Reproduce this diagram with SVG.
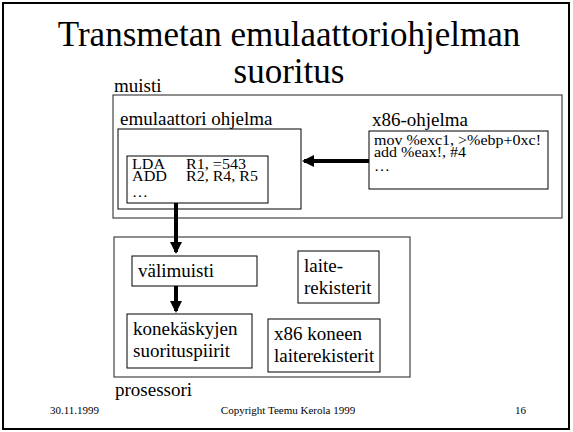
<svg xmlns="http://www.w3.org/2000/svg" width="573" height="432" viewBox="0 0 573 432">
<style>
text{font-family:"Liberation Serif","Times New Roman",serif;fill:#000}
.outer{fill:none;stroke:#444;stroke-width:1.2}
.box{fill:#fff;stroke:#000;stroke-width:1}
.lbl{font-size:19px}
.code{font-size:14px}
.foot{font-size:11px}
.arrow{stroke:#000;stroke-width:4;fill:none}
</style>
<defs>
<marker id="ah" markerWidth="3" markerHeight="3" refX="2.5" refY="1.5" orient="auto" markerUnits="strokeWidth">
<path d="M0,0 L3,1.5 L0,3 z" fill="#000"/>
</marker>
</defs>
<rect x="0" y="0" width="573" height="432" fill="#fff"/>
<rect x="3" y="3" width="566" height="426" fill="none" stroke="#000" stroke-width="2"/>
<g id="title">
<text x="289" y="46" font-size="35" text-anchor="middle">Transmetan emulaattoriohjelman</text>
<text x="289" y="83" font-size="35" text-anchor="middle">suoritus</text>
</g>
<g id="muisti">
<text x="114" y="92" class="lbl">muisti</text>
<rect x="113" y="95" width="449" height="123" class="outer"/>
</g>
<g id="emulaattori">
<text x="120" y="125" class="lbl">emulaattori ohjelma</text>
<rect x="118" y="129" width="183" height="80" class="box"/>
</g>
<g id="lda">
<rect x="127" y="156" width="141" height="47" class="box"/>
<text x="132" y="169" class="code" textLength="33" lengthAdjust="spacingAndGlyphs">LDA</text>
<text x="186" y="169" class="code" textLength="60" lengthAdjust="spacingAndGlyphs">R1, =543</text>
<text x="132" y="181" class="code" textLength="35" lengthAdjust="spacingAndGlyphs">ADD</text>
<text x="186" y="181" class="code" textLength="72" lengthAdjust="spacingAndGlyphs">R2, R4, R5</text>
<text x="132" y="197" class="code" textLength="16" lengthAdjust="spacingAndGlyphs">…</text>
</g>
<g id="x86ohjelma">
<text x="372" y="126" class="lbl">x86-ohjelma</text>
<rect x="369" y="131" width="179" height="58" class="box"/>
<text x="374" y="145" class="code" textLength="167" lengthAdjust="spacingAndGlyphs">mov %exc1, &gt;%ebp+0xc!</text>
<text x="374" y="157" class="code" textLength="92" lengthAdjust="spacingAndGlyphs">add %eax!, #4</text>
<text x="374" y="171" class="code" textLength="16" lengthAdjust="spacingAndGlyphs">…</text>
</g>
<g id="prosessori">
<rect x="114" y="237" width="296" height="140" class="outer"/>
<text x="115" y="396" class="lbl">prosessori</text>
</g>
<g id="valimuisti">
<rect x="132" y="256" width="125" height="30" class="box"/>
<text x="138" y="277" class="lbl">välimuisti</text>
</g>
<g id="laiterekisterit">
<rect x="298" y="251" width="81" height="52" class="box"/>
<text x="304" y="272" class="lbl">laite-</text>
<text x="304" y="294" class="lbl">rekisterit</text>
</g>
<g id="konekaskyjen">
<rect x="127" y="314" width="125" height="54" class="box"/>
<text x="133" y="335" class="lbl">konekäskyjen</text>
<text x="133" y="357" class="lbl">suorituspiirit</text>
</g>
<g id="x86koneen">
<rect x="268" y="319" width="112" height="53" class="box"/>
<text x="274" y="340" class="lbl">x86 koneen</text>
<text x="274" y="362" class="lbl">laiterekisterit</text>
</g>
<g id="connectors">
<line x1="369" y1="161" x2="304" y2="161" class="arrow" marker-end="url(#ah)"/>
<line x1="176" y1="203" x2="176" y2="252" class="arrow" marker-end="url(#ah)"/>
<line x1="176" y1="286" x2="176" y2="311" class="arrow" marker-end="url(#ah)"/>
</g>
<g id="footer">
<text x="50" y="414" class="foot">30.11.1999</text>
<text x="288" y="414" class="foot" text-anchor="middle">Copyright Teemu Kerola 1999</text>
<text x="515" y="414" class="foot">16</text>
</g>
</svg>
